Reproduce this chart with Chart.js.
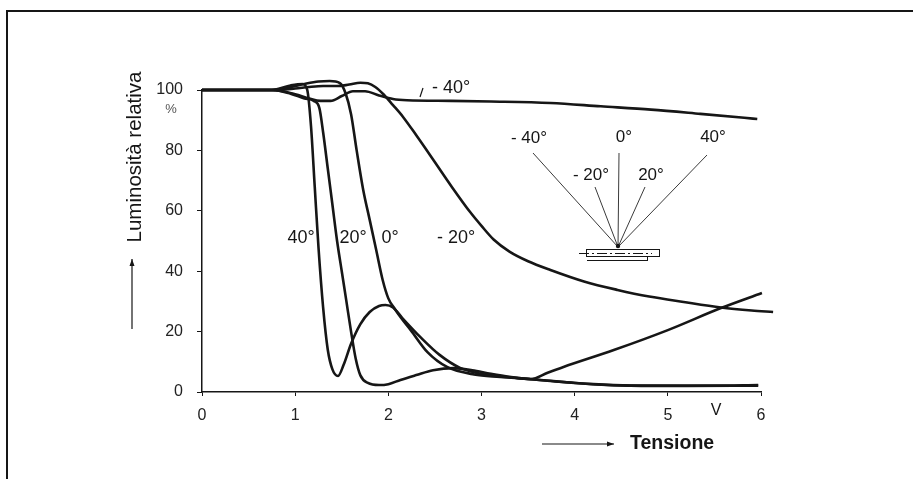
<!DOCTYPE html>
<html>
<head>
<meta charset="utf-8">
<title>Luminosità relativa</title>
<script src="https://cdn.jsdelivr.net/npm/chart.js@4.4.1/dist/chart.umd.min.js"></script>
<style>
  html, body { margin: 0; padding: 0; background: #fff; }
  canvas { display: block; }
</style>
</head>
<body>
<canvas id="chart" width="913" height="479"></canvas>
<script>
// tick labels
const xTicks = [0, 1, 2, 3, 4, 5, 6];
const yTicks = [0, 20, 40, 60, 80, 100];

// curve values: tension (V) / relative luminosity (%)
const volt40 = [0, 0.75, 0.95, 1.08, 1.13, 1.17, 1.21, 1.25, 1.3, 1.35, 1.4, 1.46, 1.52, 1.6, 1.7, 1.8, 1.9, 1.97, 2.05, 2.15, 2.35, 2.55, 2.77, 3.05, 3.4, 3.7, 4.0, 4.5, 5.0, 5.5, 5.97];
const lum40  = [100, 100, 101.5, 102, 100, 88, 68, 48, 28, 14, 7.5, 5.3, 9, 16, 22.5, 26.5, 28.5, 28.8, 28, 24.5, 18, 12.3, 8, 5.7, 4.6, 3.8, 3, 2.2, 2.1, 2.1, 2.3];

const volt20 = [0, 0.75, 0.95, 1.1, 1.2, 1.26, 1.3, 1.35, 1.4, 1.45, 1.5, 1.55, 1.6, 1.65, 1.7, 1.78, 1.9, 2.0, 2.13, 2.3, 2.48, 2.7, 2.9, 3.1, 3.3, 3.53, 3.71, 3.88, 4.42, 5.0, 5.57, 6.01];
const lum20  = [100, 100, 98.8, 97.2, 96.4, 94, 86, 74, 62, 50, 40, 30, 20, 11, 5.5, 3, 2.3, 2.6, 4, 5.6, 7.2, 7.9, 7.2, 6, 5, 4.3, 6.4, 8.3, 13.9, 20.5, 27.8, 32.8];

const volt0 = [0, 0.75, 0.95, 1.1, 1.25, 1.37, 1.48, 1.54, 1.6, 1.66, 1.73, 1.8, 1.87, 1.94, 2.0, 2.07, 2.15, 2.24, 2.42, 2.63, 2.92, 3.2, 3.5, 3.8, 4.2, 4.6, 5.2, 5.97];
const lum0  = [100, 100, 101, 102, 102.8, 103, 102.3, 99, 92, 80, 67, 57, 47, 37, 31, 27.5, 24, 20.5, 13.2, 8.3, 5.8, 5, 4.3, 3.5, 2.6, 2.1, 2, 2.1];

const voltM20 = [0, 0.75, 1.0, 1.15, 1.3, 1.45, 1.58, 1.7, 1.78, 1.86, 1.95, 2.05, 2.16, 2.3, 2.48, 2.68, 2.88, 3.0, 3.13, 3.3, 3.5, 3.74, 4.1, 4.46, 4.8, 5.17, 5.57, 5.9, 6.13];
const lumM20  = [100, 100, 100.5, 101, 101.3, 101.3, 101.8, 102.4, 102.2, 101, 98.5, 95, 91, 85, 77, 68, 59.5, 55, 50.5, 46.5, 43.3, 40.4, 36.6, 33.8, 31.6, 29.8, 28, 27, 26.5];

const voltM40 = [0, 0.75, 1.0, 1.15, 1.27, 1.38, 1.5, 1.62, 1.75, 1.9, 2.05, 2.2, 2.67, 3.1, 3.74, 4.28, 4.82, 5.35, 5.82, 5.96];
const lumM40  = [100, 100, 98.6, 97.2, 96.4, 96.4, 98, 99.6, 99.6, 98.2, 97, 96.6, 96.4, 96.2, 95.7, 94.6, 93.5, 92.1, 90.8, 90.4];

const curves = [
  { name: '40°', xs: volt40, ys: lum40 },
  { name: '20°', xs: volt20, ys: lum20 },
  { name: '0°', xs: volt0, ys: lum0 },
  { name: '- 20°', xs: voltM20, ys: lumM20 },
  { name: '- 40°', xs: voltM40, ys: lumM40 }
];

const ink = '#161616';
const sans = "'Liberation Sans', Arial, sans-serif";

function arrow(ctx, x1, y1, x2, y2) {
  ctx.beginPath();
  ctx.moveTo(x1, y1);
  ctx.lineTo(x2, y2);
  ctx.stroke();
  const a = Math.atan2(y2 - y1, x2 - x1);
  ctx.beginPath();
  ctx.moveTo(x2, y2);
  ctx.lineTo(x2 - 7 * Math.cos(a) + 2.5 * Math.sin(a), y2 - 7 * Math.sin(a) - 2.5 * Math.cos(a));
  ctx.lineTo(x2 - 7 * Math.cos(a) - 2.5 * Math.sin(a), y2 - 7 * Math.sin(a) + 2.5 * Math.cos(a));
  ctx.closePath();
  ctx.fill();
}

const extras = {
  id: 'extras',
  afterDraw(chart) {
    const ctx = chart.ctx;
    ctx.save();
    ctx.strokeStyle = ink;
    ctx.fillStyle = ink;

    // page frame
    ctx.lineWidth = 2;
    ctx.beginPath();
    ctx.moveTo(7, 479);
    ctx.lineTo(7, 11);
    ctx.lineTo(913, 11);
    ctx.stroke();

    // axis titles and arrows
    ctx.lineWidth = 1.2;
    ctx.font = '20.5px ' + sans;
    ctx.textAlign = 'center';
    ctx.textBaseline = 'middle';
    ctx.save();
    ctx.translate(135, 157);
    ctx.rotate(-Math.PI / 2);
    ctx.fillText('Luminosità relativa', 0, 0);
    ctx.restore();
    arrow(ctx, 132, 329, 132, 259);

    ctx.font = 'bold 19.5px ' + sans;
    ctx.textAlign = 'left';
    ctx.fillText('Tensione', 630, 444);
    arrow(ctx, 542, 444, 614, 444);

    // unit marks
    ctx.font = '16px ' + sans;
    ctx.textAlign = 'center';
    ctx.fillText('V', 716, 411);
    ctx.fillStyle = '#555';
    ctx.font = '13px ' + sans;
    ctx.fillText('%', 171, 109);
    ctx.fillStyle = ink;

    // curve labels
    ctx.font = '18px ' + sans;
    ctx.fillText('40°', 301, 238);
    ctx.fillText('20°', 353, 238);
    ctx.fillText('0°', 390, 238);
    ctx.fillText('- 20°', 456, 238);
    ctx.fillText('- 40°', 451, 88);
    ctx.lineWidth = 1.2;
    ctx.beginPath();
    ctx.moveTo(420, 97);
    ctx.lineTo(423, 88);
    ctx.stroke();

    // viewing angle inset
    const ox = 618, oy = 247;
    const rays = [[533, 153, '- 40°', 529, 138], [595, 187, '- 20°', 591, 175], [619, 153, '0°', 624, 137], [645, 187, '20°', 651, 175], [707, 155, '40°', 713, 137]];
    ctx.strokeStyle = '#3a3a3a';
    ctx.lineWidth = 1;
    ctx.font = '17px ' + sans;
    rays.forEach(r => {
      ctx.beginPath();
      ctx.moveTo(ox, oy);
      ctx.lineTo(r[0], r[1]);
      ctx.stroke();
      ctx.fillText(r[2], r[3], r[4]);
    });
    ctx.beginPath();
    ctx.arc(ox, oy - 1, 2.2, 0, Math.PI * 2);
    ctx.fill();
    ctx.strokeStyle = ink;
    ctx.strokeRect(586.5, 249.5, 73, 7);
    ctx.beginPath();
    ctx.moveTo(587, 260.5);
    ctx.lineTo(648, 260.5);
    ctx.moveTo(647.5, 257);
    ctx.lineTo(647.5, 261);
    ctx.stroke();
    ctx.setLineDash([10, 3, 2, 3]);
    ctx.beginPath();
    ctx.moveTo(579, 253.5);
    ctx.lineTo(652, 253.5);
    ctx.stroke();
    ctx.restore();
  }
};

new Chart(document.getElementById('chart'), {
  type: 'scatter',
  data: {
    datasets: curves.map(c => ({
      label: c.name,
      data: c.xs.map((x, i) => ({ x: x, y: c.ys[i] })),
      showLine: true,
      borderColor: ink,
      borderWidth: 2.6,
      pointRadius: 0,
      cubicInterpolationMode: 'monotone',
      clip: false
    }))
  },
  options: {
    responsive: false,
    animation: false,
    events: [],
    layout: { padding: { left: 142, right: 152, top: 90, bottom: 47 } },
    plugins: { legend: { display: false }, tooltip: { enabled: false } },
    scales: {
      x: {
        type: 'linear',
        min: 0,
        max: 6,
        afterBuildTicks: s => { s.ticks = xTicks.map(v => ({ value: v })); },
        afterFit: s => { s.height = 40; },
        border: { display: true, color: ink, width: 1.5 },
        grid: { display: true, drawOnChartArea: false, drawTicks: true, tickLength: 4, color: ink },
        ticks: { color: '#222', padding: 10, font: { family: sans, size: 16 } }
      },
      y: {
        min: 0,
        max: 100,
        afterBuildTicks: s => { s.ticks = yTicks.map(v => ({ value: v })); },
        afterFit: s => { s.width = 60; },
        border: { display: true, color: ink, width: 1.5 },
        grid: { display: true, drawOnChartArea: false, drawTicks: true, tickLength: 5, color: ink },
        ticks: { color: '#222', padding: 14, font: { family: sans, size: 16 } }
      }
    }
  },
  plugins: [extras]
});
</script>
</body>
</html>
